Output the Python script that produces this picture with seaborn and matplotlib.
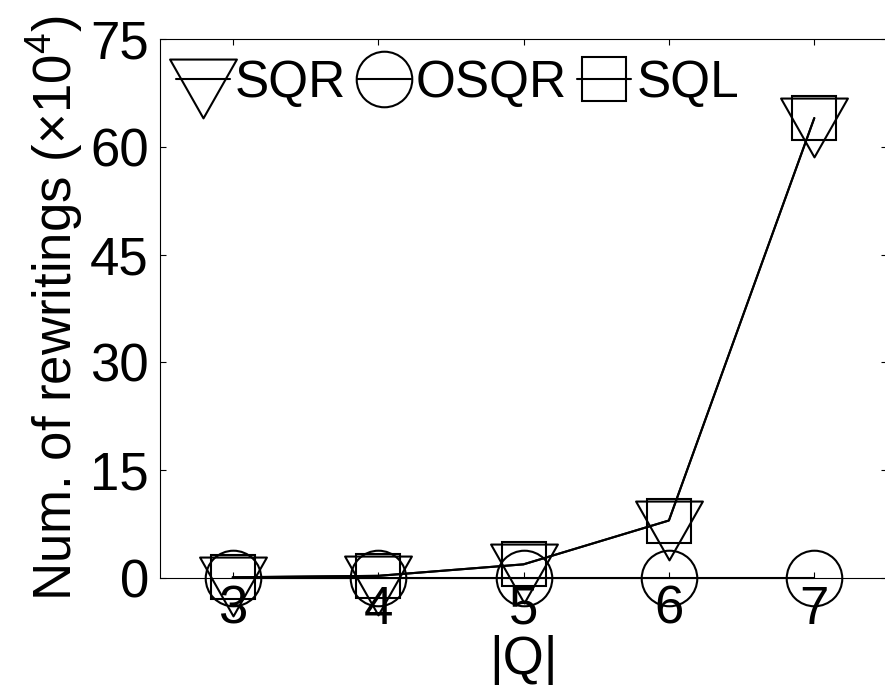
import numpy as np
import pandas as pd
import matplotlib
matplotlib.use("Agg")
import matplotlib.pyplot as plt
from matplotlib.path import Path
import seaborn as sns

# |Q| values and number of rewritings (in units of 10^4)
query_sizes = [3, 4, 5, 6, 7]
sqr_counts = [0.1, 0.3, 1.9, 8.0, 64.0]
osqr_counts = [0.0, 0.0, 0.0, 0.0, 0.0]
sql_counts = [0.1, 0.3, 1.9, 8.0, 64.0]
series_names = ["SQR", "OSQR", "SQL"]
y_ticks = [0, 15, 30, 45, 60, 75]

df = pd.DataFrame({
    "Q": query_sizes * 3,
    "count": sqr_counts + osqr_counts + sql_counts,
    "method": [n for n in series_names for _ in query_sizes],
})

sns.set_style("ticks", {"text.color": "black", "axes.labelcolor": "black",
                        "xtick.color": "black", "ytick.color": "black",
                        "axes.edgecolor": "black"})
plt.rcParams["font.family"] = ["Liberation Sans", "DejaVu Sans"]
plt.rcParams["mathtext.fontset"] = "custom"
plt.rcParams["mathtext.rm"] = "Liberation Sans"
plt.rcParams["mathtext.default"] = "regular"

# downward triangle whose apex hangs below the data point
tri_path = Path([(-33.5, 20.0), (33.5, 20.0), (0.0, -39.0), (-33.5, 20.0)],
                [Path.MOVETO, Path.LINETO, Path.LINETO, Path.CLOSEPOLY])

styles = {
    "SQR": dict(marker=tri_path, markersize=56),
    "OSQR": dict(marker="o", markersize=40),
    "SQL": dict(marker="s", markersize=32),
}

fig = plt.figure(figsize=(8.85, 6.99), dpi=100)
ax = fig.add_axes([160 / 885, 121 / 699, 727 / 885, 539 / 699])

for name in series_names:
    sub = df[df["method"] == name]
    sns.lineplot(data=sub, x="Q", y="count", ax=ax, color="black",
                 linewidth=1.5, markerfacecolor="none",
                 markeredgecolor="black", markeredgewidth=1.5,
                 label=name, clip_on=False, zorder=3, **styles[name])

ax.set_xlim(2.5, 7.5)
ax.set_ylim(0, 75)
ax.set_xticks(query_sizes)
ax.set_yticks(y_ticks)
ax.tick_params(direction="in", length=4, width=0.8, top=True, right=True,
               labelsize=38, colors="black")
ax.tick_params(axis="x", pad=5)
ax.tick_params(axis="y", pad=8)
for sp in ax.spines.values():
    sp.set_linewidth(0.8)
    sp.set_color("black")
    sp.set_visible(True)

ax.set_xlabel("|Q|", fontsize=38, labelpad=0, color="black")
ax.set_ylabel("Num. of rewritings (×10$^4$)", fontsize=38, labelpad=4,
              color="black")

leg = ax.legend(loc="center left", bbox_to_anchor=(0.022, 0.918), ncol=3,
                frameon=False, fontsize=37, handlelength=1.05,
                handletextpad=0.1, columnspacing=0.2, borderpad=0,
                borderaxespad=0, labelcolor="black")

fig.savefig("out.png", dpi=100)
